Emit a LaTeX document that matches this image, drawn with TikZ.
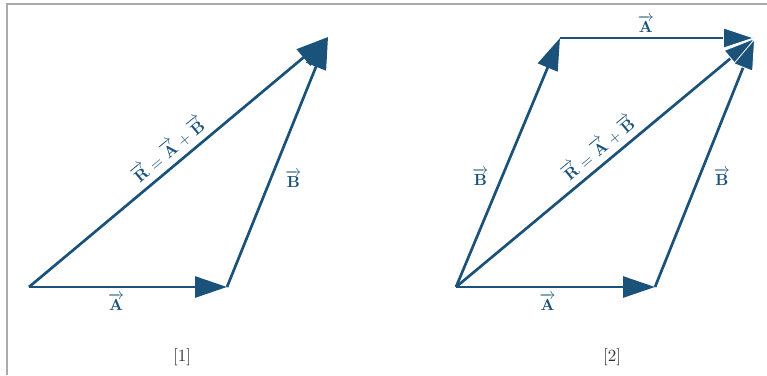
\documentclass[tikz,border=0pt]{standalone}
\usepackage{amsmath}
\usetikzlibrary{arrows.meta}
\definecolor{vblue}{RGB}{26,82,122}
\definecolor{framegray}{RGB}{170,170,170}
\begin{document}
\begin{tikzpicture}[x=1pt,y=-1pt,
  vec/.style={draw=vblue,line width=2.7pt,-{Triangle[length=32pt,width=21pt]}},
  vecw/.style={draw=vblue,line width=2.7pt,-{Triangle[length=32pt,width=21pt,color=white,fill=vblue,line width=0.8pt]}},
  lbl/.style={text=vblue,scale=1.6,inner sep=1pt},
  figcap/.style={scale=1.7,text=black!80,inner sep=1pt}]
\useasboundingbox (0,0) rectangle (767,375);
\draw[framegray,line width=1.5pt] (7,375) -- (7,4) -- (767,4);
% diagram 1
\coordinate (O1) at (29,287);
\coordinate (P1) at (227,287);
\coordinate (Q1) at (328,37);
\draw[vec] (O1) -- node[lbl,below=2pt,pos=0.44] {$\overrightarrow{\mathbf{A}}$} (P1);
\draw[vec] (P1) -- node[lbl,right=7pt,pos=0.43] {$\overrightarrow{\mathbf{B}}$} (Q1);
\draw[vec] (O1) -- node[lbl,sloped,above=2pt,pos=0.5] {$\overrightarrow{\mathbf{R}}=\overrightarrow{\mathbf{A}}+\overrightarrow{\mathbf{B}}$} (Q1);
\node[figcap] (c1) at (182,357) {[1]};
% diagram 2
\coordinate (O2) at (456,287);
\coordinate (P2) at (655,287);
\coordinate (S2) at (560,38);
\coordinate (Q2) at (755,38);
\draw[vec] (O2) -- node[lbl,below=2pt,pos=0.46] {$\overrightarrow{\mathbf{A}}$} (P2);
\draw[vec] (O2) -- node[lbl,left=6pt,pos=0.44] {$\overrightarrow{\mathbf{B}}$} (S2);
\draw[vecw] (S2) -- node[lbl,above=1pt,pos=0.44] {$\overrightarrow{\mathbf{A}}$} (Q2);
\draw[vecw] (O2) -- node[lbl,sloped,above=2pt,pos=0.51] {$\overrightarrow{\mathbf{R}}=\overrightarrow{\mathbf{A}}+\overrightarrow{\mathbf{B}}$} (Q2);
\draw[vecw] (P2) -- node[lbl,right=7pt,pos=0.44] {$\overrightarrow{\mathbf{B}}$} (Q2);
\node[figcap] (c2) at (612,357) {[2]};
\end{tikzpicture}
\end{document}
